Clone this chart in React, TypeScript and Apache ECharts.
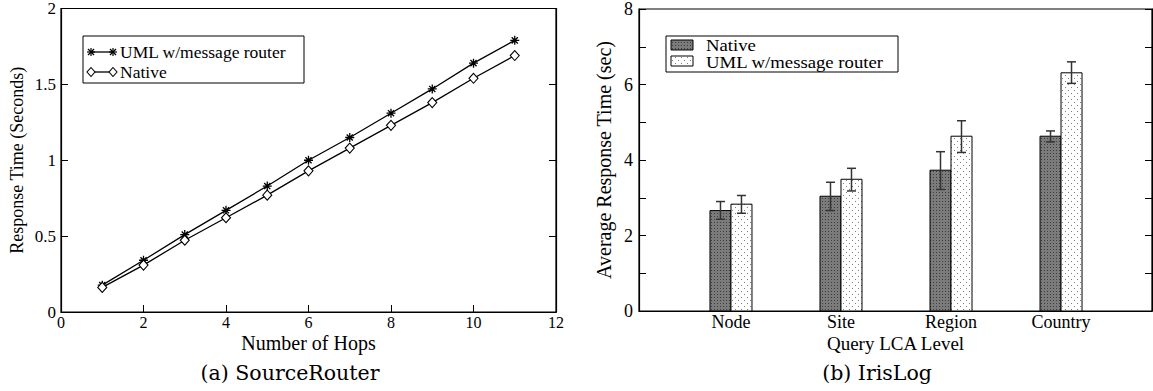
import React, { useEffect, useRef } from "react";
import * as echarts from "echarts";

// Left chart: SourceRouter
const hops = [1, 2, 3, 4, 5, 6, 7, 8, 9, 10, 11];
const umlRouter = [0.177, 0.341, 0.51, 0.67, 0.83, 1.0, 1.15, 1.31, 1.47, 1.64, 1.79];
const nativeRouter = [0.162, 0.309, 0.473, 0.621, 0.77, 0.93, 1.08, 1.23, 1.38, 1.54, 1.69];

// Right chart: IrisLog
const levels = ["Node", "Site", "Region", "Country"];
const nativeMean = [2.66, 3.04, 3.73, 4.63];
const nativeLow = [2.43, 2.66, 3.22, 4.48];
const nativeHigh = [2.9, 3.41, 4.22, 4.77];
const umlMean = [2.83, 3.49, 4.63, 6.31];
const umlLow = [2.59, 3.18, 4.2, 6.03];
const umlHigh = [3.06, 3.78, 5.04, 6.6];

const leftLegend = ["UML w/message router", "Native"];
const rightLegend = ["Native", "UML w/message router"];

const FONT = "'Liberation Serif', 'DejaVu Serif', serif";
const CAPFONT = "'DejaVu Serif', 'Liberation Serif', serif";
const ASTER = "path://M0,5L10,5M5,0L5,10M1.6,1.6L8.4,8.4M8.4,1.6L1.6,8.4";

function makePattern(bg: string, dot: string, step: number, stagger: boolean): string {
  const c = document.createElement("canvas");
  const s = step * 2;
  c.width = s;
  c.height = s;
  const ctx = c.getContext("2d")!;
  ctx.fillStyle = bg;
  ctx.fillRect(0, 0, s, s);
  ctx.fillStyle = dot;
  ctx.fillRect(0, 0, 1, 1);
  if (stagger) ctx.fillRect(step, step, 1, 1);
  else {
    ctx.fillRect(step, 0, 1, 1);
    ctx.fillRect(0, step, 1, 1);
    ctx.fillRect(step, step, 1, 1);
  }
  return c.toDataURL();
}

export default function App() {
  const ref = useRef<HTMLDivElement>(null);
  useEffect(() => {
    const chart = echarts.init(ref.current!, null, { renderer: "svg" });
    const darkPat = { image: makePattern("#7b7b7b", "#3e3e3e", 3, false), repeat: "repeat" };
    const lightPat = { image: makePattern("#ffffff", "#808080", 3, true), repeat: "repeat" };

    const barData = (means: number[], lows: number[], highs: number[]) =>
      means.map((m, i) => [i, m, lows[i], highs[i]]);

    const makeBarSeries = (name: string, data: number[][], offset: number, fill: any) => ({
      type: "custom",
      name,
      xAxisIndex: 1,
      yAxisIndex: 2,
      data,
      renderItem: (params: any, api: any) => {
        const x = api.value(0);
        const top = api.coord([x, api.value(1)]);
        const base = api.coord([x, 0]);
        const lo = api.coord([x, api.value(2)]);
        const hi = api.coord([x, api.value(3)]);
        const bw = 21;
        const cx = top[0] + offset;
        return {
          type: "group",
          children: [
            {
              type: "rect",
              shape: { x: cx - bw / 2, y: top[1], width: bw, height: base[1] - top[1] },
              style: { fill, stroke: "#000", lineWidth: 1 },
            },
            {
              type: "line",
              shape: { x1: cx, y1: hi[1], x2: cx, y2: lo[1] },
              style: { stroke: "#333", lineWidth: 1.5 },
            },
            {
              type: "line",
              shape: { x1: cx - 4.5, y1: hi[1], x2: cx + 4.5, y2: hi[1] },
              style: { stroke: "#333", lineWidth: 1.5 },
            },
            {
              type: "line",
              shape: { x1: cx - 4.5, y1: lo[1], x2: cx + 4.5, y2: lo[1] },
              style: { stroke: "#333", lineWidth: 1.5 },
            },
          ],
        };
      },
    });

    const axisLine = { show: true, onZero: false, lineStyle: { color: "#000", width: 1.2 } };
    const tickIn = { show: true, inside: true, length: 7, lineStyle: { color: "#000" } };
    const labelStyle = { color: "#000", fontFamily: FONT, fontSize: 17 };

    chart.setOption({
      animation: false,
      grid: [
        { left: 61, top: 8, width: 495, height: 304, show: true, borderColor: "#000", borderWidth: 1.2 },
        { left: 639, top: 9, width: 513, height: 302, show: true, borderColor: "#000", borderWidth: 1.2 },
      ],
      xAxis: [
        {
          type: "value",
          gridIndex: 0,
          min: 0,
          max: 12,
          interval: 2,
          axisLine,
          axisTick: tickIn,
          splitLine: { show: false },
          axisLabel: { ...labelStyle, fontSize: 16, margin: 2 },
          name: "Number of Hops",
          nameLocation: "middle",
          nameGap: 21,
          nameMoveOverlap: false,
          nameTextStyle: { ...labelStyle, fontSize: 20 },
        },
        {
          type: "value",
          gridIndex: 1,
          min: -0.836,
          max: 3.827,
          axisLine,
          axisTick: { show: false },
          splitLine: { show: false },
          axisLabel: {
            ...labelStyle,
            fontSize: 18,
            margin: 2,
            customValues: [0, 1, 2, 3],
            formatter: (v: number) => levels[Math.round(v)] ?? "",
          },
          name: "Query LCA Level",
          nameLocation: "middle",
          nameGap: 23,
          nameMoveOverlap: false,
          nameTextStyle: { ...labelStyle, fontSize: 19 },
        },
      ],
      yAxis: [
        {
          type: "value",
          gridIndex: 0,
          min: 0,
          max: 2,
          interval: 0.5,
          axisLine,
          axisTick: tickIn,
          splitLine: { show: false },
          axisLabel: { ...labelStyle, margin: 5 },
          name: "Response Time (Seconds)",
          nameLocation: "middle",
          nameGap: 35,
          nameTextStyle: { ...labelStyle, fontSize: 18 },
        },
        {
          type: "value",
          gridIndex: 0,
          position: "right",
          min: 0,
          max: 2,
          interval: 0.5,
          axisLine,
          axisTick: tickIn,
          splitLine: { show: false },
          axisLabel: { show: false },
        },
        {
          type: "value",
          gridIndex: 1,
          min: 0,
          max: 8,
          interval: 2,
          axisLine,
          axisTick: tickIn,
          minorTick: { show: true, splitNumber: 2, length: 7, lineStyle: { color: "#000" } },
          splitLine: { show: false },
          axisLabel: { ...labelStyle, fontSize: 18, margin: 6 },
          name: "Average Response Time (sec)",
          nameLocation: "middle",
          nameGap: 25,
          nameTextStyle: { ...labelStyle, fontSize: 20 },
        },
        {
          type: "value",
          gridIndex: 1,
          position: "right",
          min: 0,
          max: 8,
          interval: 2,
          axisLine,
          axisTick: tickIn,
          minorTick: { show: true, splitNumber: 2, length: 7, lineStyle: { color: "#000" } },
          splitLine: { show: false },
          axisLabel: { show: false },
        },
      ],
      series: [
        {
          type: "line",
          name: leftLegend[0],
          xAxisIndex: 0,
          yAxisIndex: 0,
          data: hops.map((h, i) => [h, umlRouter[i]]),
          symbol: ASTER,
          symbolSize: 9,
          lineStyle: { color: "#000", width: 1.3 },
          itemStyle: { color: "none", borderColor: "#000", borderWidth: 1.3 },
        },
        {
          type: "line",
          name: leftLegend[1],
          xAxisIndex: 0,
          yAxisIndex: 0,
          data: hops.map((h, i) => [h, nativeRouter[i]]),
          symbol: "diamond",
          symbolSize: [9, 10],
          lineStyle: { color: "#000", width: 1.3 },
          itemStyle: { color: "#fff", borderColor: "#000", borderWidth: 1.1 },
        },
        makeBarSeries(rightLegend[0], barData(nativeMean, nativeLow, nativeHigh), -10.5, darkPat),
        makeBarSeries(rightLegend[1], barData(umlMean, umlLow, umlHigh), 10.5, lightPat),
      ],
      graphic: [
        // left legend
        { type: "rect", shape: { x: 83, y: 36, width: 221, height: 47 }, style: { fill: "#fff", stroke: "#000", lineWidth: 1 } },
        { type: "line", shape: { x1: 91, y1: 52, x2: 114, y2: 52 }, style: { stroke: "#000", lineWidth: 1.3 } },
        { type: "line", shape: { x1: 91, y1: 72, x2: 114, y2: 72 }, style: { stroke: "#000", lineWidth: 1.3 } },
        { type: "polygon", shape: { points: [[91, 67.5], [95, 72], [91, 76.5], [87, 72]] }, style: { fill: "#fff", stroke: "#000", lineWidth: 1.1 } },
        { type: "polygon", shape: { points: [[113, 67.5], [117, 72], [113, 76.5], [109, 72]] }, style: { fill: "#fff", stroke: "#000", lineWidth: 1.1 } },
        ...[91, 113].flatMap((cx) => [
          { type: "line", shape: { x1: cx - 4, y1: 52, x2: cx + 4, y2: 52 }, style: { stroke: "#000", lineWidth: 1.2 } },
          { type: "line", shape: { x1: cx, y1: 48, x2: cx, y2: 56 }, style: { stroke: "#000", lineWidth: 1.2 } },
          { type: "line", shape: { x1: cx - 3, y1: 49, x2: cx + 3, y2: 55 }, style: { stroke: "#000", lineWidth: 1.2 } },
          { type: "line", shape: { x1: cx + 3, y1: 49, x2: cx - 3, y2: 55 }, style: { stroke: "#000", lineWidth: 1.2 } },
        ]),
        { type: "text", x: 120, y: 52, style: { text: leftLegend[0], fill: "#000", fontFamily: FONT, fontSize: 17.5, verticalAlign: "middle" } },
        { type: "text", x: 120, y: 72, style: { text: leftLegend[1], fill: "#000", fontFamily: FONT, fontSize: 17.5, verticalAlign: "middle" } },
        // right legend
        { type: "rect", shape: { x: 666, y: 36, width: 232, height: 36 }, style: { fill: "#fff", stroke: "#000", lineWidth: 1 } },
        { type: "rect", shape: { x: 671, y: 40, width: 22, height: 10 }, style: { fill: darkPat as any, stroke: "#000", lineWidth: 1 } },
        { type: "rect", shape: { x: 671, y: 56, width: 22, height: 10 }, style: { fill: lightPat as any, stroke: "#000", lineWidth: 1 } },
        { type: "text", x: 706, y: 45.5, scaleX: 1.17, style: { text: rightLegend[0], fill: "#000", fontFamily: FONT, fontSize: 16, verticalAlign: "middle" } },
        { type: "text", x: 706, y: 62, scaleX: 1.17, style: { text: rightLegend[1], fill: "#000", fontFamily: FONT, fontSize: 16, verticalAlign: "middle" } },
        // captions
        { type: "text", x: 290, y: 373, style: { text: "(a) SourceRouter", fill: "#000", fontFamily: CAPFONT, fontSize: 20.5, align: "center", verticalAlign: "middle" } },
        { type: "text", x: 877, y: 373, style: { text: "(b) IrisLog", fill: "#000", fontFamily: CAPFONT, fontSize: 20.5, align: "center", verticalAlign: "middle" } },
      ],
    });
    return () => chart.dispose();
  }, []);
  return <div ref={ref} style={{ position: "absolute", left: 0, top: 0, width: 1153, height: 391, background: "#fff" }} />;
}
